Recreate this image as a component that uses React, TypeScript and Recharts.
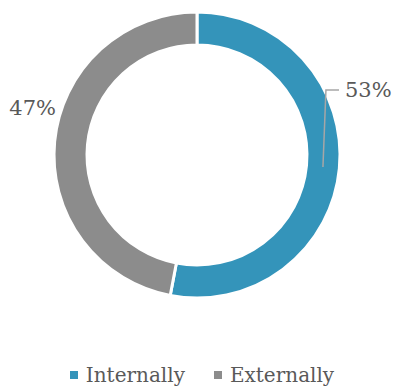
import React from 'react';
import { PieChart, Pie, Cell, Legend } from 'recharts';

const categories = ['Internally', 'Externally'];
const shares = [53, 47];
const colors = ['#3494BA', '#8C8C8C'];

const data = categories.map((name, i) => ({ name, value: shares[i] }));

const RAD = Math.PI / 180;
const FONT = '"DejaVu Serif", serif';
const TEXT = '#595959';

const renderLabel = (props: any) => {
  const { cx, cy, midAngle, innerRadius, outerRadius, index, value } = props;
  const r = (innerRadius + outerRadius) / 2;
  const sx = cx + r * Math.cos(-midAngle * RAD);
  const sy = cy + r * Math.sin(-midAngle * RAD);
  if (index === 0) {
    const ly = cy - 65;
    return (
      <g>
        <polyline
          points={`${sx},${sy} ${sx + 3},${ly} ${cx + 142},${ly}`}
          fill="none"
          stroke="#A6A6A6"
          strokeWidth={1.5}
        />
        <text x={cx + 148} y={ly} dominantBaseline="central" fill={TEXT} fontSize={21} fontFamily={FONT}>
          {value}%
        </text>
      </g>
    );
  }
  return (
    <text x={cx - 141} y={cy - 47} textAnchor="end" dominantBaseline="central" fill={TEXT} fontSize={21} fontFamily={FONT}>
      {value}%
    </text>
  );
};

const renderLegend = () => (
  <div style={{ display: 'flex', justifyContent: 'center', alignItems: 'center', fontFamily: FONT, fontSize: 20, color: TEXT, paddingLeft: 10 }}>
    {categories.map((c, i) => (
      <div key={c} style={{ display: 'flex', alignItems: 'center', marginRight: i === 0 ? 29 : 0 }}>
        <span style={{ width: 8, height: 8, background: colors[i], display: 'inline-block', marginRight: 8 }} />
        <span>{c}</span>
      </div>
    ))}
  </div>
);

export default function App() {
  return (
    <div style={{ position: 'absolute', left: 0, top: 0 }}>
      <PieChart width={394} height={390} margin={{ top: 0, right: 0, bottom: 0, left: 0 }}>
        <Pie
          data={data}
          dataKey="value"
          cx={197}
          cy={155}
          innerRadius={110}
          outerRadius={143}
          startAngle={90}
          endAngle={-270}
          stroke="#FFFFFF"
          strokeWidth={3}
          label={renderLabel}
          labelLine={false}
          isAnimationActive={false}
        >
          {data.map((d, i) => (
            <Cell key={d.name} fill={colors[i]} />
          ))}
        </Pie>
        <Legend content={renderLegend} wrapperStyle={{ top: 363, left: 0, width: 394 }} />
      </PieChart>
    </div>
  );
}
